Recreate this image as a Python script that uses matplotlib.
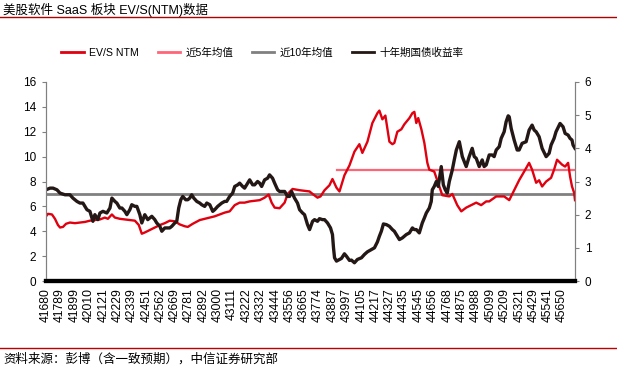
import matplotlib
matplotlib.use('Agg')
from matplotlib import pyplot as plt
from matplotlib.lines import Line2D

plt.rcParams['font.family'] = ['Liberation Sans', 'Noto Sans CJK SC', 'DejaVu Sans']

# fechas (serie de Excel) y valores
fechas_ev = [41680, 41695, 41726, 41749, 41772, 41788, 41811, 41834, 41864, 41903,
             41941, 41980, 42018, 42056, 42095, 42133, 42156, 42187, 42210, 42248,
             42287, 42325, 42364, 42394, 42417, 42440, 42479, 42517, 42556, 42594,
             42632, 42671, 42709, 42748, 42771, 42809, 42863, 42901, 42940, 42978,
             43016, 43055, 43093, 43132, 43170, 43208, 43247, 43285, 43324, 43362,
             43393, 43416, 43439, 43477, 43516, 43539, 43577, 43631, 43669, 43708,
             43731, 43769, 43792, 43823, 43861, 43884, 43915, 43938, 43976, 44015,
             44053, 44091, 44114, 44153, 44191, 44230, 44245, 44268, 44291, 44322,
             44345, 44360, 44383, 44414, 44437, 44476, 44499, 44514, 44529, 44544,
             44568, 44591, 44614, 44629, 44667, 44706, 44729, 44783, 44806, 44844,
             44875, 44913, 44952, 44990, 45028, 45067, 45090, 45144, 45205, 45244,
             45282, 45320, 45359, 45397, 45420, 45451, 45474, 45497, 45528, 45566,
             45589, 45612, 45651, 45674, 45697, 45712, 45727, 45743, 45750]
ev_ntm = [5.2, 5.4, 5.35, 5.0, 4.5, 4.3, 4.35, 4.6, 4.7, 4.65,
          4.7, 4.75, 4.85, 4.9, 4.95, 5.1, 5.0, 5.35, 5.1, 5.0,
          4.95, 4.9, 4.85, 4.5, 3.8, 3.9, 4.1, 4.3, 4.5, 4.65,
          4.85, 4.8, 4.55, 4.4, 4.35, 4.6, 4.9, 5.0, 5.1, 5.2,
          5.35, 5.5, 5.6, 6.1, 6.3, 6.3, 6.4, 6.45, 6.5, 6.7,
          6.95, 6.3, 5.9, 5.85, 6.3, 7.0, 7.4, 7.3, 7.25, 7.2,
          7.0, 6.7, 6.8, 7.3, 7.7, 8.2, 7.5, 7.2, 8.5, 9.3,
          10.4, 11.0, 10.3, 11.2, 12.7, 13.5, 13.7, 13.0, 13.3, 11.2,
          11.0, 11.1, 12.0, 12.2, 12.6, 13.1, 13.5, 13.6, 12.7, 13.1,
          12.2, 11.1, 9.5, 8.95, 8.8, 7.6, 6.9, 6.8, 7.0, 6.1,
          5.6, 5.9, 6.1, 6.3, 6.1, 6.4, 6.4, 6.8, 6.8, 6.5,
          7.3, 8.1, 8.8, 9.5, 8.95, 7.9, 8.1, 7.6, 8.0, 8.3,
          8.95, 9.75, 9.35, 9.2, 9.5, 8.4, 7.6, 7.1, 6.5]

fechas_bono = [41680, 41711, 41734, 41764, 41788, 41826, 41864, 41887, 41918, 41941,
               41964, 41995, 42018, 42041, 42056, 42079, 42095, 42118, 42148, 42172,
               42187, 42210, 42225, 42248, 42264, 42287, 42302, 42325, 42340, 42364,
               42379, 42402, 42417, 42440, 42463, 42494, 42517, 42532, 42556, 42571,
               42594, 42609, 42632, 42648, 42671, 42686, 42701, 42717, 42732, 42755,
               42771, 42786, 42801, 42817, 42840, 42863, 42878, 42901, 42917, 42940,
               42963, 42978, 43001, 43016, 43032, 43055, 43070, 43093, 43116, 43132,
               43155, 43170, 43193, 43208, 43231, 43247, 43270, 43285, 43308, 43324,
               43339, 43362, 43385, 43400, 43423, 43439, 43462, 43477, 43500, 43516,
               43539, 43554, 43569, 43592, 43615, 43631, 43654, 43669, 43692, 43708,
               43731, 43746, 43769, 43784, 43807, 43823, 43846, 43869, 43884, 43892,
               43900, 43915, 43938, 43953, 43976, 43991, 44015, 44030, 44053, 44076,
               44107, 44130, 44153, 44184, 44207, 44230, 44245, 44260, 44276, 44299,
               44322, 44345, 44360, 44376, 44399, 44422, 44437, 44452, 44476, 44499,
               44514, 44529, 44552, 44575, 44591, 44606, 44629, 44644, 44652, 44667,
               44683, 44698, 44721, 44737, 44752, 44767, 44783, 44806, 44821, 44837,
               44860, 44883, 44898, 44913, 44936, 44959, 44975, 44990, 45013, 45036,
               45051, 45067, 45090, 45113, 45128, 45144, 45167, 45182, 45205, 45220,
               45236, 45244, 45259, 45282, 45305, 45320, 45343, 45374, 45397, 45420,
               45436, 45451, 45474, 45497, 45528, 45551, 45566, 45589, 45604, 45635,
               45658, 45674, 45697, 45712, 45727, 45735, 45750]
rendimiento_10y = [2.75, 2.8, 2.8, 2.75, 2.65, 2.6, 2.6, 2.5, 2.4, 2.35,
                   2.35, 2.15, 2.1, 1.8, 2.0, 1.85, 2.05, 2.1, 2.05, 2.2,
                   2.5, 2.4, 2.35, 2.2, 2.2, 2.1, 2.0, 2.15, 2.3, 2.25,
                   2.25, 2.0, 1.75, 2.0, 1.85, 1.95, 1.85, 1.75, 1.65, 1.5,
                   1.6, 1.6, 1.6, 1.65, 1.75, 1.8, 2.2, 2.45, 2.55, 2.45,
                   2.45, 2.5, 2.6, 2.5, 2.4, 2.35, 2.3, 2.25, 2.35, 2.3,
                   2.1, 2.15, 2.25, 2.3, 2.35, 2.4, 2.4, 2.55, 2.65, 2.85,
                   2.9, 2.95, 2.85, 2.8, 2.95, 3.05, 2.9, 2.9, 3.0, 2.95,
                   2.85, 3.05, 3.1, 3.2, 3.1, 2.95, 2.75, 2.7, 2.7, 2.7,
                   2.55, 2.55, 2.7, 2.5, 2.35, 2.15, 2.05, 2.0, 1.7, 1.55,
                   1.8, 1.85, 1.8, 1.88, 1.85, 1.85, 1.75, 1.6, 1.4, 1.0,
                   0.7, 0.6, 0.65, 0.68, 0.82, 0.75, 0.62, 0.63, 0.55, 0.65,
                   0.7, 0.8, 0.88, 0.95, 1.0, 1.18, 1.35, 1.5, 1.72, 1.7,
                   1.65, 1.55, 1.5, 1.4, 1.25, 1.3, 1.35, 1.4, 1.45, 1.6,
                   1.55, 1.55, 1.45, 1.75, 1.9, 2.05, 2.2, 2.4, 2.75, 2.85,
                   3.0, 2.85, 3.45, 2.9, 2.75, 2.65, 3.0, 3.35, 3.65, 3.95,
                   4.2, 3.75, 3.6, 3.45, 3.75, 4.0, 3.75, 3.7, 3.45, 3.65,
                   3.45, 3.5, 3.8, 3.8, 3.75, 3.95, 4.05, 4.3, 4.5, 4.8,
                   4.98, 4.95, 4.6, 4.25, 3.95, 3.95, 4.15, 4.2, 4.55, 4.7,
                   4.55, 4.5, 4.35, 4.0, 3.75, 3.85, 4.1, 4.3, 4.5, 4.75,
                   4.65, 4.45, 4.4, 4.3, 4.25, 4.1, 4.0]

# medias historicas
media_5 = 8.9
inicio_media_5 = 43920
media_10 = 7.0

etiquetas_x = [41680, 41789, 41899, 42010, 42121, 42229, 42339, 42451, 42562, 42669,
               42781, 42892, 43000, 43111, 43222, 43332, 43444, 43556, 43665, 43774,
               43887, 43997, 44105, 44217, 44327, 44435, 44545, 44656, 44768, 44875,
               44988, 45099, 45209, 45321, 45429, 45541, 45650]

rojo = '#e0000f'
rosa = '#ff6577'
gris = '#808080'
negro = '#231815'

fig = plt.figure(figsize=(6.17, 3.71), dpi=100)
ax = fig.add_axes([46 / 617, 1 - 281 / 371, (575 - 46) / 617, (281 - 82) / 371])
ax2 = ax.twinx()

x_ini, x_fin = fechas_ev[0], fechas_ev[-1]
ax.plot(fechas_ev, ev_ntm, color=rojo, lw=1.7, zorder=3)
ax.plot([inicio_media_5, x_fin], [media_5, media_5], color=rosa, lw=1.6, zorder=2)
ax.plot([x_ini, x_fin], [media_10, media_10], color=gris, lw=2.0, zorder=2)
ax2.plot(fechas_bono, rendimiento_10y, color=negro, lw=2.4)

ax.set_xlim(x_ini, x_fin)
ax.set_ylim(0, 16)
ax.set_yticks(range(0, 17, 2))
ax2.set_ylim(0, 6)
ax2.set_yticks(range(0, 7))

ax.set_xticks(etiquetas_x)
ax.set_xticklabels([str(e) for e in etiquetas_x], rotation=90, fontsize=8.7)
ax.tick_params(axis='x', length=0, pad=5)
ax.tick_params(axis='y', labelsize=8.5, length=3, color=gris, pad=4)
ax2.tick_params(axis='y', labelsize=8.5, length=3, color=gris, pad=4)

for a in (ax, ax2):
    a.spines['top'].set_visible(False)
    a.spines['left'].set_color(gris)
    a.spines['right'].set_color(gris)
    a.spines['bottom'].set_color('black')
    a.spines['bottom'].set_linewidth(3)
    a.patch.set_visible(False)

# leyenda arriba del grafico
handles = [Line2D([], [], color=rojo, lw=2), Line2D([], [], color=rosa, lw=2),
           Line2D([], [], color=gris, lw=2), Line2D([], [], color=negro, lw=2)]
labels = ['EV/S NTM', '近5年均值', '近10年均值', '十年期国债收益率']
fig.legend(handles, labels, loc='center', bbox_to_anchor=(262.5 / 617, 1 - 53 / 371), ncol=4,
           frameon=False, fontsize=7.6, handlelength=2.1, handletextpad=0.5,
           columnspacing=1.8)

# titulo y fuente
fig.text(3 / 617, 1 - 10 / 371, '美股软件 SaaS 板块 EV/S(NTM)数据', fontsize=9,
         va='center', ha='left')
fig.add_artist(Line2D([0.0, 1.0], [1 - 17 / 371, 1 - 17 / 371], color='#b00000', lw=1))
fig.add_artist(Line2D([0.0, 1.0], [1 - 348 / 371, 1 - 348 / 371], color='#c00000', lw=1))
fig.text(3 / 617, 1 - 359 / 371, '资料来源：彭博（含一致预期），中信证券研究部', fontsize=9,
         va='center', ha='left')

plt.savefig('out.png', dpi=100)
